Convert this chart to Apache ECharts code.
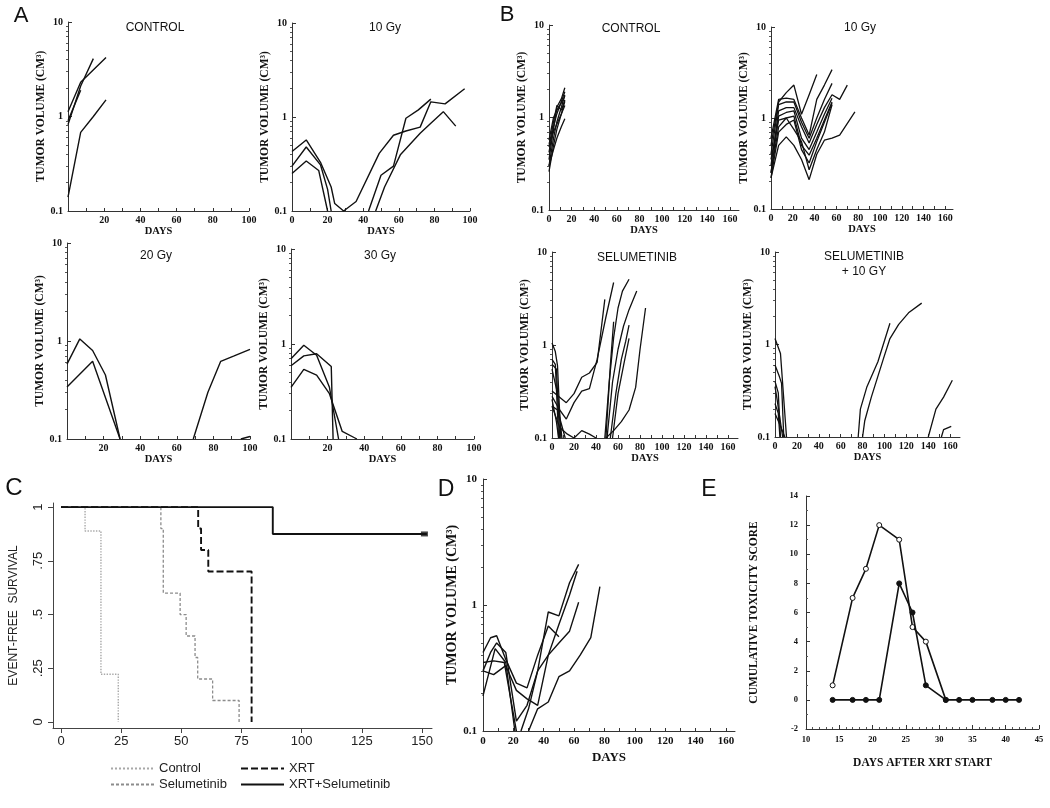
<!DOCTYPE html>
<html><head><meta charset="utf-8">
<script src="https://cdn.jsdelivr.net/npm/echarts@6/dist/echarts.min.js"></script>
<style>html,body{margin:0;padding:0;background:#fff}#c{width:1050px;height:808px}</style>
</head><body><div id="c"></div>
<script>
// ---------------- DATA ----------------
// Panel A (days, tumor volume cm3)
const A_CONTROL = [
  [[0,0.14],[7,0.68],[14,1.0],[21,1.5]],
  [[0,0.82],[7,2.1],[14,4.1]],
  [[0,1.12],[7,2.3],[21,4.2]],
  [[0,0.9],[7,1.9]]
];
const A_10GY = [
  [[0,0.43],[8,0.57],[16,0.33],[22,0.18],[24,0.12],[29,0.1],[36,0.126],[49,0.41],[57,0.64],[64,0.71],[72,0.78],[78,1.45],[86,1.38],[97,2.0]],
  [[0,0.3],[8,0.48],[16,0.31],[20,0.17],[22,0.1]],
  [[0,0.25],[8,0.34],[15,0.27],[20,0.1]],
  [[43,0.1],[50,0.24],[57,0.3],[64,0.97],[71,1.19],[78,1.55]],
  [[47,0.1],[52,0.18],[61,0.4],[72,0.67],[78,0.86],[85,1.14],[92,0.8]]
];
const A_20GY = [
  [[0,0.58],[7,1.05],[14,0.8],[21,0.45],[29,0.1]],
  [[0,0.34],[14,0.62],[29,0.1]],
  [[69,0.1],[77,0.3],[84,0.62],[91,0.7],[100,0.82]],
  [[95,0.1],[100,0.106]]
];
const A_30GY = [
  [[0,0.7],[7,0.97],[14,0.76],[21,0.35],[26,0.1]],
  [[0,0.59],[7,0.75],[14,0.79],[22,0.58],[23,0.1]],
  [[0,0.35],[7,0.54],[14,0.47],[21,0.3],[28,0.12],[36,0.1]]
];
// Panel B
const B_CONTROL = [
  [[0,0.26],[4,0.5],[7,0.75],[11,1.1],[14,1.5]],
  [[0,0.3],[4,0.6],[7,0.9],[11,1.3],[14,1.75]],
  [[0,0.35],[4,0.75],[7,1.3],[11,1.6],[14,2.1]],
  [[0,0.42],[4,0.8],[7,1.1],[11,1.5],[14,1.9]],
  [[0,0.48],[4,0.9],[7,1.35],[11,1.2],[14,1.55]],
  [[0,0.52],[4,0.7],[7,0.85],[11,1.1],[14,1.35]],
  [[0,0.3],[4,0.45],[7,0.6],[11,0.8],[14,0.97]],
  [[0,0.57],[4,1.0],[7,1.2],[11,1.45],[14,1.7]]
];
const B_10GY = [
  [[0,0.5],[7,1.5],[14,1.9],[21,2.3],[28,1.1],[35,1.8],[42,3.0]],
  [[0,0.6],[7,1.6],[14,1.65],[21,1.6],[28,1.0],[35,0.65],[42,1.6],[49,2.3],[56,3.4]],
  [[0,0.4],[7,1.4],[14,1.5],[21,1.5],[28,0.9],[35,0.6],[42,1.0],[49,1.6],[56,2.4]],
  [[0,0.3],[7,1.2],[14,1.3],[21,1.3],[28,0.8],[35,0.53],[42,0.85],[49,1.3],[56,1.8],[63,1.6],[70,2.3]],
  [[0,0.25],[7,1.05],[14,1.15],[21,1.2],[28,0.6],[35,0.45],[42,0.7],[49,1.1],[56,1.65]],
  [[0,0.25],[7,0.8],[14,1.0],[21,1.05],[28,0.5],[35,0.39],[42,0.6],[49,0.95],[56,1.5]],
  [[0,0.22],[7,0.7],[14,0.85],[21,0.95],[28,0.45],[35,0.32],[42,0.55],[49,0.9],[56,1.45]],
  [[0,0.22],[7,0.5],[14,0.62],[21,0.5],[28,0.35],[35,0.21],[42,0.4],[49,0.57],[56,0.6],[63,0.65],[77,1.17]],
  [[0,0.35],[7,0.95],[14,1.0],[21,0.75],[28,0.55],[35,0.27],[42,0.45],[49,0.7],[56,1.4]]
];
const B_SELUMETINIB = [
  [[0,1.05],[3,0.85],[5,0.6],[8,0.1]],
  [[0,0.7],[3,0.62],[6,0.1]],
  [[0,0.62],[4,0.55],[7,0.1]],
  [[0,0.55],[5,0.3],[9,0.1]],
  [[0,0.26],[4,0.15],[6,0.1]],
  [[0,0.22],[5,0.2],[12,0.1]],
  [[0,0.32],[13,0.24],[20,0.3],[27,0.45],[34,0.5],[41,0.65],[48,3.1]],
  [[0,0.28],[7,0.2],[13,0.16],[20,0.24],[27,0.32],[34,0.34],[41,0.7],[49,2.0],[56,4.7]],
  [[0,0.22],[7,0.13],[14,0.11],[20,0.1],[27,0.12],[34,0.11],[40,0.1]],
  [[48,0.1],[52,0.4],[56,1.2],[60,2.5],[64,3.8],[70,5.1]],
  [[50,0.1],[55,0.4],[60,0.9],[65,1.6],[70,2.4],[77,3.8]],
  [[53,0.1],[58,0.3],[63,0.7],[67,1.1],[70,1.64]],
  [[55,0.1],[60,0.3],[65,0.6],[70,1.18]],
  [[49,0.1],[56,0.12],[63,0.15],[70,0.2],[76,0.35],[80,0.9],[85,2.5]],
  [[49,0.1],[53,0.6],[56,1.78]]
];
const B_SEL_10GY = [
  [[0,1.16],[5,0.8],[10.5,0.1]],
  [[0,0.6],[4,0.45],[6,0.38],[8,0.1]],
  [[0,0.4],[3,0.3],[5,0.1]],
  [[0,0.23],[3,0.18],[4.5,0.1]],
  [[0,0.35],[2,0.25],[7,0.1]],
  [[0,0.18],[4,0.14],[9,0.1]],
  [[76,0.1],[78,0.2],[84,0.35],[94,0.65],[105,1.7]],
  [[80,0.1],[82,0.15],[88,0.27],[99,0.7],[105,1.16],[113,1.65],[122,2.2],[134,2.8]],
  [[140,0.1],[147,0.2],[154,0.27],[162,0.41]],
  [[152,0.1],[154,0.12],[161,0.13]]
];
// Panel C (Kaplan-Meier event-free survival)
const kmControlDays = [0,10,16.6,23.8];
const kmControlSurv = [1,0.889,0.222,0];
const kmSelDays = [0,41.5,42.5,49.5,52,55.7,56.8,63,74];
const kmSelSurv = [1,0.9,0.6,0.5,0.4,0.3,0.2,0.1,0];
const kmXrtDays = [0,57,58.2,61.2,79.2];
const kmXrtSurv = [1,0.9,0.8,0.7,0];
const kmComboDays = [0,88,152];
const kmComboSurv = [1,0.875,0.875];
const kmComboCensor = [[151,0.875]];
const kmTicksX = [0,25,50,75,100,125,150];
const kmTicksY = [0,0.25,0.5,0.75,1];
// Panel D
const D_LINES = [
  [[0,0.3],[5,0.42],[9,0.5],[15,0.42],[22,0.12],[29,0.16],[36,0.3],[43,0.88],[50,0.82],[57,1.5],[63,2.1]],
  [[0,0.42],[5,0.55],[9,0.57],[15,0.37],[22,0.24],[29,0.22],[36,0.4],[43,0.68],[50,0.56]],
  [[0,0.3],[7,0.28],[15,0.33],[22,0.21],[29,0.18],[36,0.16],[43,0.4],[50,0.7],[57,1.2],[62,1.85]],
  [[0,0.19],[8,0.45],[15,0.35],[21,0.1]],
  [[0,0.35],[7,0.36],[14,0.35],[22,0.1]],
  [[30,0.1],[36,0.15],[43,0.17],[50,0.27],[57,0.3],[64,0.4],[71,0.55],[77,1.4]],
  [[25,0.1],[30,0.15],[36,0.3],[43,0.4],[50,0.5],[57,0.62],[63,1.05]]
];
// Panel E (toxicity)
const toxOpenDays = [14,17,19,21,24,26,28,31];
const toxOpenScore = [1,7,9,12,11,5,4,0];
const toxFilledDays = [14,17,19,21,24,26,28,31,33,35,38,40,42];
const toxFilledScore = [0,0,0,0,8,6,1,0,0,0,0,0,0];
// Tick labels
const A_TICKS = [0,10,20,30,40,50,60,70,80,90,100];
const A_LABELS_NO0 = [20,40,60,80,100];
const A_LABELS = [0,20,40,60,80,100];
const B_TICKS = [0,10,20,30,40,50,60,70,80,90,100,110,120,130,140,150,160];
const B_LABELS = [0,20,40,60,80,100,120,140,160];
const LOG_MAJOR = [0.1,1,10];
const LOG_MINOR = [0.2,0.3,0.4,0.5,0.6,0.7,0.8,0.9,2,3,4,5,6,7,8,9];

// ---------------- BUILD ----------------
const SERIF = '"Liberation Serif","DejaVu Serif",serif';
const SANS = '"Liberation Sans",Arial,sans-serif';
const INK = '#111';
const grids=[], xAxes=[], yAxes=[], series=[];

function addGrid(r){
  grids.push({left:r[0], top:r[1], width:r[2]-r[0], height:r[3]-r[1], containLabel:false, outerBoundsMode:'none'});
  return grids.length-1;
}

function tumorPanel(p){
  const g = addGrid(p.rect);
  const xi = xAxes.length;
  xAxes.push({gridIndex:g, type:'value', min:0, max:p.xmax,
    axisLine:{show:true, onZero:false, lineStyle:{color:'#333', width:1}},
    axisTick:{show:true, inside:true, length:3, customValues:p.xticks, lineStyle:{color:'#333'}},
    axisLabel:{show:true, customValues:p.xlabels, margin:p.lm||4, fontFamily:SERIF, fontWeight:'bold', fontSize:p.fs||10, color:INK},
    splitLine:{show:false},
    name:'DAYS', nameLocation:'middle', nameGap:p.ng||14,
    nameTextStyle:{fontFamily:SERIF, fontWeight:'bold', fontSize:p.nfs||10.5, color:INK}});
  const yi = yAxes.length;
  yAxes.push({gridIndex:g, type:'log', logBase:10, min:0.1, max:10,
    axisLine:{show:true, onZero:false, lineStyle:{color:'#333', width:1}},
    axisTick:{show:true, inside:true, length:4, customValues:LOG_MAJOR, lineStyle:{color:'#333'}},
    axisLabel:{show:true, customValues:LOG_MAJOR, margin:p.ym||5, fontFamily:SERIF, fontWeight:'bold', fontSize:p.fs||10, color:INK,
      formatter:v=> v<0.5?'0.1':(v<5?'1':'10')},
    splitLine:{show:false},
    name:'TUMOR VOLUME (CM³)', nameLocation:'middle', nameGap:p.yng||13,
    nameTextStyle:{fontFamily:SERIF, fontWeight:p.ynw||'bold', fontSize:p.ynfs||11.5, color:INK}});
  yAxes.push({gridIndex:g, type:'log', logBase:10, min:0.1, max:10,
    axisLine:{show:false}, axisLabel:{show:false}, splitLine:{show:false},
    axisTick:{show:true, inside:true, length:2, customValues:LOG_MINOR, lineStyle:{color:'#555'}}});
  p.curves.forEach(c=>series.push({type:'line', xAxisIndex:xi, yAxisIndex:yi, data:c, symbol:'none',
    lineStyle:{color:INK, width:p.lw||1.4}, clip:true, silent:true, z:3}));
}

tumorPanel({rect:[68,22,249,211], xmax:100, xticks:A_TICKS, xlabels:A_LABELS_NO0, curves:A_CONTROL, yng:15});
tumorPanel({rect:[292,23,470,211], xmax:100, xticks:A_TICKS, xlabels:A_LABELS, curves:A_10GY, yng:12});
tumorPanel({rect:[67,243,250,439], xmax:100, xticks:A_TICKS, xlabels:A_LABELS_NO0, curves:A_20GY, yng:14});
tumorPanel({rect:[291,249,474,439], xmax:100, xticks:A_TICKS, xlabels:A_LABELS_NO0, curves:A_30GY, yng:11});
tumorPanel({rect:[549,25,739,210], xmax:168, xticks:B_TICKS, xlabels:B_LABELS, curves:B_CONTROL, yng:12, lw:1.3});
tumorPanel({rect:[771,27,953,209], xmax:167, xticks:B_TICKS, xlabels:B_LABELS, curves:B_10GY, yng:9, lw:1.3});
tumorPanel({rect:[552,252,738,438], xmax:169, xticks:B_TICKS, xlabels:B_LABELS, curves:B_SELUMETINIB, yng:15, lw:1.3});
tumorPanel({rect:[775,252,960,437], xmax:169, xticks:B_TICKS, xlabels:B_LABELS, curves:B_SEL_10GY, yng:12, lw:1.3});
tumorPanel({rect:[483,479,735,731], xmax:166, xticks:B_TICKS, xlabels:B_LABELS, curves:D_LINES, fs:11, nfs:13, ng:20, yng:15, ynfs:14, ym:6, lm:5});

// Panel C
(function(){
  const g = addGrid([53,503,432,728]);
  const xi = xAxes.length, yi = yAxes.length;
  xAxes.push({gridIndex:g, type:'value', min:-3.32, max:154.15,
    axisLine:{show:true, onZero:false, lineStyle:{color:'#444'}},
    axisTick:{show:true, inside:false, length:5, customValues:kmTicksX, lineStyle:{color:'#444'}},
    axisLabel:{customValues:kmTicksX, margin:7, fontFamily:SANS, fontSize:13, color:'#222'},
    splitLine:{show:false}});
  yAxes.push({gridIndex:g, type:'value', min:-0.028, max:1.019,
    axisLine:{show:true, onZero:false, lineStyle:{color:'#444'}},
    axisTick:{show:true, inside:false, length:5, customValues:kmTicksY, lineStyle:{color:'#444'}},
    axisLabel:{customValues:kmTicksY, rotate:90, margin:8, fontFamily:SANS, fontSize:13, color:'#222',
      formatter:v=> v===0?'0':(v===1?'1':String(v).replace(/^0\./,'.'))},
    splitLine:{show:false},
    name:'EVENT-FREE  SURVIVAL', nameLocation:'middle', nameGap:33,
    nameTextStyle:{fontFamily:SANS, fontSize:12, color:'#222'}});
  const zip=(a,b)=>a.map((d,i)=>[d,b[i]]);
  const km=(name,d,s,color,type,w,z)=>series.push({name, type:'line', step:'end', xAxisIndex:xi, yAxisIndex:yi,
    data:zip(d,s), symbol:'none', lineStyle:{color, type, width:w}, itemStyle:{color}, silent:true, z});
  km('Control', kmControlDays, kmControlSurv, '#a8a8a8', 'dotted', 1.4, 2);
  km('Selumetinib', kmSelDays, kmSelSurv, '#8c8c8c', [3,2], 1.3, 2);
  km('XRT', kmXrtDays, kmXrtSurv, '#111', [7,3], 1.9, 3);
  km('XRT+Selumetinib', kmComboDays, kmComboSurv, '#111', 'solid', 1.9, 4);
  series.push({name:'censor', type:'scatter', xAxisIndex:xi, yAxisIndex:yi, data:kmComboCensor,
    symbol:'rect', symbolSize:[7,5], itemStyle:{color:'#111'}, silent:true, z:5});
})();

// Panel E
(function(){
  const g = addGrid([806,496,1039,729]);
  const xi = xAxes.length, yi = yAxes.length;
  xAxes.push({gridIndex:g, type:'value', min:10, max:45, interval:5,
    axisLine:{show:true, onZero:false, lineStyle:{color:'#333'}},
    axisTick:{show:true, inside:true, length:4, lineStyle:{color:'#333'}},
    minorTick:{show:true, splitNumber:5, length:2, lineStyle:{color:'#555'}},
    axisLabel:{margin:6, fontFamily:SERIF, fontWeight:'bold', fontSize:8.5, color:INK},
    splitLine:{show:false},
    name:'DAYS AFTER XRT START', nameLocation:'middle', nameGap:28,
    nameTextStyle:{fontFamily:SERIF, fontWeight:'bold', fontSize:11.5, color:INK}});
  yAxes.push({gridIndex:g, type:'value', min:-2, max:14, interval:2,
    axisLine:{show:true, onZero:false, lineStyle:{color:'#333'}},
    axisTick:{show:true, inside:true, length:4, lineStyle:{color:'#333'}},
    minorTick:{show:true, splitNumber:2, length:2, lineStyle:{color:'#555'}},
    axisLabel:{margin:8, fontFamily:SERIF, fontWeight:'bold', fontSize:8.5, color:INK},
    splitLine:{show:false},
    name:'CUMULATIVE TOXICITY SCORE', nameLocation:'middle', nameGap:46,
    nameTextStyle:{fontFamily:SERIF, fontWeight:'bold', fontSize:11.5, color:INK}});
  const zip=(a,b)=>a.map((d,i)=>[d,b[i]]);
  series.push({type:'line', xAxisIndex:xi, yAxisIndex:yi, data:zip(toxOpenDays,toxOpenScore),
    symbol:'circle', symbolSize:5, showAllSymbol:true, lineStyle:{color:INK, width:1.6},
    itemStyle:{color:'#fff', borderColor:INK, borderWidth:1}, silent:true, z:3});
  series.push({type:'line', xAxisIndex:xi, yAxisIndex:yi, data:zip(toxFilledDays,toxFilledScore),
    symbol:'circle', symbolSize:5, showAllSymbol:true, lineStyle:{color:INK, width:1.6},
    itemStyle:{color:INK, borderColor:INK, borderWidth:1}, silent:true, z:4});
})();

// Texts (panel letters and titles)
function txt(s,x,y,size,family,weight,lh){
  return {type:'text', x, y, silent:true, z:10,
    style:{text:s, fill:INK, fontSize:size, fontFamily:family, fontWeight:weight||'normal',
      align:'center', verticalAlign:'middle', textAlign:'center', textVerticalAlign:'middle', lineHeight:lh||size+2}};
}
const graphics = [
  txt('A',21,16,22,SANS), txt('B',507,15,22,SANS), txt('C',14,488,24,SANS), txt('D',446,490,23,SANS), txt('E',709,490,23,SANS),
  txt('CONTROL',155,28,12,SANS), txt('10 Gy',385,28,12,SANS), txt('20 Gy',156,256,12,SANS), txt('30 Gy',380,256,12,SANS),
  txt('CONTROL',631,29,12,SANS), txt('10 Gy',860,28,12,SANS), txt('SELUMETINIB',637,258,12,SANS),
  txt('SELUMETINIB\n+ 10 GY',864,264,12,SANS,'normal',15)
];

const legendBase = {orient:'vertical', itemGap:3, itemWidth:43, itemHeight:10, selectedMode:false,
  itemStyle:{opacity:0, borderWidth:0}, textStyle:{fontFamily:SANS, fontSize:13, color:'#222'}};
const chart = echarts.init(document.getElementById('c'), null, {renderer:'canvas'});
chart.setOption({
  animation:false,
  backgroundColor:'#fff',
  grid:grids, xAxis:xAxes, yAxis:yAxes, series,
  legend:[
    Object.assign({left:105, top:757, data:['Control','Selumetinib']}, legendBase),
    Object.assign({left:235, top:757, data:['XRT','XRT+Selumetinib']}, legendBase)
  ],
  graphic:graphics
});
</script></body></html>
